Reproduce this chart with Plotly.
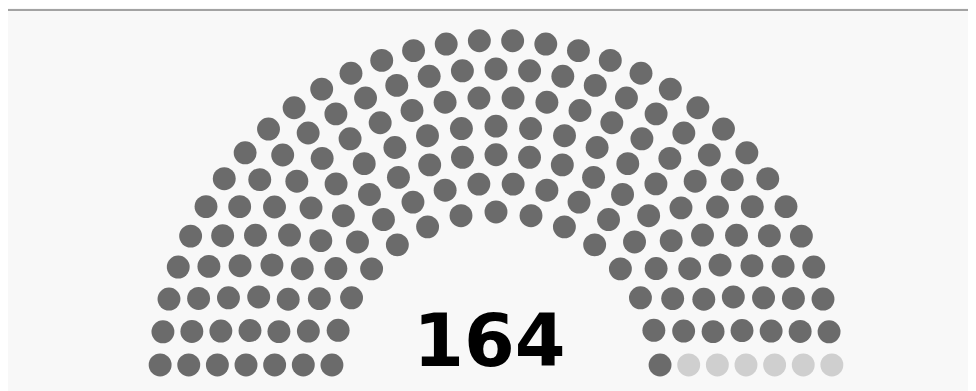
import math
import plotly.graph_objects as go

# ---- data ----
parties = ["Majority", "Other"]
seats = [158, 6]
colors = ["#6b6b6b", "#cfcfcf"]
label_text = "164"
n_rows = 7

# ---- parliament seat layout (Wikipedia-style arc algorithm) ----
total = sum(seats)
dot_r = 0.4 / n_rows


def row_cap(i):
    return math.pi / (2.0 * math.asin(2.0 / (3.0 * n_rows + 4.0 * i - 2.0)))


capacity = sum(int(row_cap(i)) for i in range(1, n_rows + 1))
positions = []
for i in range(1, n_rows + 1):
    if i == n_rows:
        J = total - len(positions)
    else:
        J = int(total / capacity * row_cap(i))
    R = (3.0 * n_rows + 4.0 * i - 2.0) / (4.0 * n_rows)
    a0 = math.sin(dot_r / R)
    for j in range(J):
        ang = j * (math.pi - 2.0 * a0) / (J - 1.0) + a0
        positions.append((ang, R * math.cos(ang), R * math.sin(ang)))
positions.sort(reverse=True)

fig = go.Figure()
k = 0
for name, n, col in zip(parties, seats, colors):
    pts = positions[k:k + n]
    k += n
    fig.add_trace(go.Scatter(
        x=[p[1] for p in pts], y=[p[2] for p in pts], mode="markers",
        name=name, marker=dict(size=22.9, color=col, line=dict(width=0)),
        hoverinfo="name", showlegend=False))

fig.add_trace(go.Scatter(
    x=[-0.0325], y=[0.143], mode="text", text=[label_text],
    textposition="middle center",
    textfont=dict(family="DejaVu Sans", size=73, color="#000000", weight="bold"),
    showlegend=False, hoverinfo="skip"))

W, H = 976, 391
scale = 200.2
cx, base = 488.0, 368.4
fig.update_layout(
    width=W, height=H, margin=dict(l=0, r=0, t=0, b=0),
    paper_bgcolor="#f8f8f8", plot_bgcolor="rgba(0,0,0,0)",
    xaxis=dict(range=[-cx / scale, (W - cx) / scale], visible=False, fixedrange=True),
    yaxis=dict(range=[-(H - base) / scale, base / scale], visible=False, fixedrange=True),
    shapes=[
        dict(type="line", xref="paper", yref="paper", x0=0, x1=1, y0=(H - 2) / H, y1=(H - 2) / H,
             line=dict(color="#a3a3a3", width=2), layer="below"),
    ],
)
fig.write_html("out.html")
